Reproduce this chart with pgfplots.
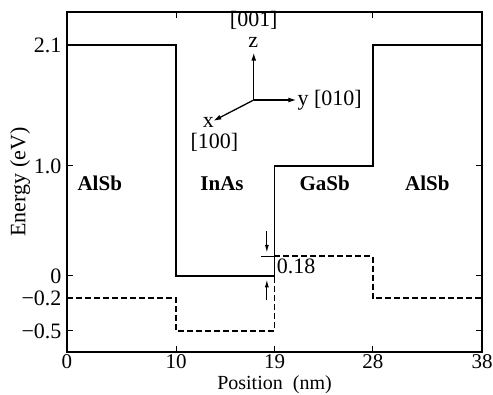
\documentclass[border=0pt]{standalone}
\usepackage{fontspec}
\setmainfont{Liberation Serif}
\usepackage{pgfplots}
\pgfplotsset{compat=1.18}
\usetikzlibrary{arrows.meta}
\begin{document}
\begin{tikzpicture}
\useasboundingbox (-67pt,-43pt) rectangle (426pt,352pt);
\fontsize{22}{24}\selectfont
\begin{axis}[
  at={(0pt,0pt)}, anchor=south west,
  scale only axis, width=415pt, height=340pt,
  xmin=0, xmax=38, ymin=-0.691, ymax=2.4,
  xtick={0,10,19,28,38},
  xticklabels={0,10,19,28,38},
  ytick={-0.5,-0.2,0,1.0,2.1},
  yticklabels={−0.5,−0.2,0,1.0,2.1},
  tick align=inside, major tick length=6pt,
  tick style={line width=1pt, black},
  axis line style={line width=1.5pt},
  yticklabel style={font=\fontsize{22}{24}\selectfont, xshift=2pt},
  xticklabel style={font=\fontsize{21}{22}\selectfont, anchor=north, inner sep=0pt, yshift=-2pt},
  xlabel={Position\ \ (nm)}, ylabel={Energy\ (eV)},
  every axis x label/.style={at={(axis description cs:0.5,0)}, anchor=base, yshift=-38pt, inner sep=0pt, font=\fontsize{20}{22}\selectfont},
  every axis y label/.style={at={(axis description cs:-0.113,0.5)}, anchor=center, rotate=90, font=\fontsize{22}{24}\selectfont},
  clip=false,
]
\addplot[black, line width=1.8pt] coordinates {(0,2.1) (10,2.1) (10,0) (19,0) (19,1.0) (28,1.0) (28,2.1) (38,2.1)};
\addplot[black, line width=1.6pt, dash pattern=on 6pt off 3pt] coordinates {(0,-0.2) (10,-0.2) (10,-0.5) (19,-0.5) (19,0.18) (28,0.18) (28,-0.2) (38,-0.2)};
\node[font=\fontsize{21}{24}\selectfont\bfseries] at (axis cs:3.0,0.84) {AlSb};
\node[font=\fontsize{21}{24}\selectfont\bfseries] at (axis cs:14.2,0.84) {InAs};
\node[font=\fontsize{21}{24}\selectfont\bfseries] at (axis cs:23.6,0.84) {GaSb};
\node[font=\fontsize{21}{24}\selectfont\bfseries] at (axis cs:33.0,0.84) {AlSb};
% coordinate axes
\draw[line width=1.3pt, -{Latex[length=8pt,width=5pt]}] (axis cs:17.1,1.6) -- (axis cs:17.1,2.03);
\draw[line width=1.3pt, -{Latex[length=8pt,width=5pt]}] (axis cs:17.1,1.6) -- (axis cs:21.0,1.6);
\draw[line width=1.3pt, -{Latex[length=8pt,width=5pt]}] (axis cs:17.1,1.6) -- (axis cs:13.4,1.41);
\node[inner sep=0pt] at (axis cs:17.05,2.12) {z};
\node[inner sep=0pt] at (axis cs:17.1,2.32) {[001]};
\node[anchor=west, inner sep=1pt] at (axis cs:21.0,1.6) {y [010]};
\node[inner sep=0pt] at (axis cs:12.95,1.395) {x};
\node[inner sep=0pt] at (axis cs:13.5,1.215) {[100]};
% 0.18 annotation
\draw[line width=1pt] (axis cs:17.8,0.18) -- (axis cs:19,0.18);
\draw[line width=1.2pt, -{Latex[length=8pt,width=4pt]}] (axis cs:18.3,0.41) -- (axis cs:18.3,0.21);
\draw[line width=1.2pt, -{Latex[length=8pt,width=4pt]}] (axis cs:18.3,-0.22) -- (axis cs:18.3,-0.03);
\node[anchor=west, inner sep=1pt] at (axis cs:19.1,0.09) {0.18};
\end{axis}
\end{tikzpicture}
\end{document}
